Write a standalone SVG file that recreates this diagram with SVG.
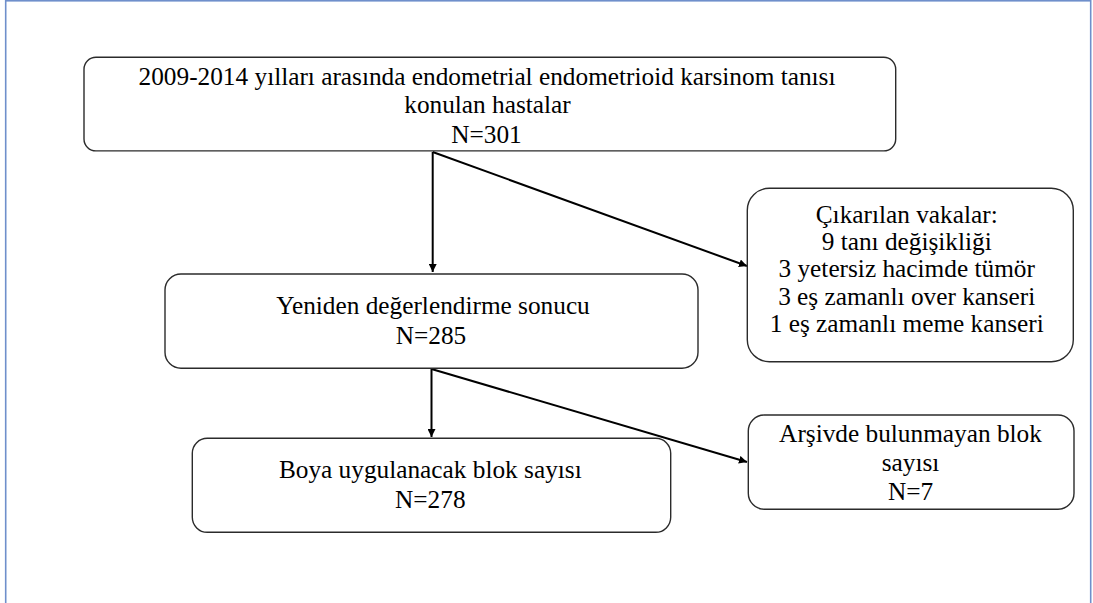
<svg xmlns="http://www.w3.org/2000/svg" width="1093" height="603" viewBox="0 0 1093 603">
  <style>
    .box { fill: #ffffff; stroke: #2b2b2b; stroke-width: 1.4; }
    .lbl { font-family: "Liberation Serif", "Times New Roman", serif; font-size: 25.3px; fill: #000000; text-anchor: middle; }
    .conn { stroke: #000000; stroke-width: 2; fill: none; marker-end: url(#arrow); }
  </style>
  <defs>
    <marker id="arrow" viewBox="0 0 8 8" refX="8" refY="4" markerWidth="8" markerHeight="8" markerUnits="userSpaceOnUse" orient="auto">
      <path d="M0,0 L8,4 L0,8 z" fill="#000000"/>
    </marker>
  </defs>
  <rect x="0" y="0" width="1093" height="603" fill="#ffffff"/>
  <rect x="5.7" y="0.8" width="1085" height="640" fill="none" stroke="#6F8FCB" stroke-width="1.6"/>

  <g id="connectors">
    <line class="conn" x1="432.7" y1="152" x2="432.7" y2="272"/>
    <line class="conn" x1="432.7" y1="152" x2="747" y2="266"/>
    <line class="conn" x1="431.5" y1="369" x2="431.5" y2="437"/>
    <line class="conn" x1="431.5" y1="369" x2="747" y2="462"/>
  </g>

  <g id="node-total">
    <rect class="box" x="84" y="57.3" width="811.7" height="93.6" rx="12" ry="12"/>
    <text class="lbl" x="487" y="85">2009-2014 yılları arasında endometrial endometrioid karsinom tanısı</text>
    <text class="lbl" x="487.5" y="113">konulan hastalar</text>
    <text class="lbl" x="486.5" y="142.7">N=301</text>
  </g>

  <g id="node-excluded">
    <rect class="box" x="747.3" y="188.3" width="326" height="173.4" rx="22" ry="22"/>
    <text class="lbl" x="906.7" y="222.7">Çıkarılan vakalar:</text>
    <text class="lbl" x="906.7" y="250">9 tanı değişikliği</text>
    <text class="lbl" x="906.7" y="277.3">3 yetersiz hacimde tümör</text>
    <text class="lbl" x="906.7" y="304.6">3 eş zamanlı over kanseri</text>
    <text class="lbl" x="906.7" y="331.9">1 eş zamanlı meme kanseri</text>
  </g>

  <g id="node-reeval">
    <rect class="box" x="165" y="274" width="533" height="94.3" rx="16" ry="16"/>
    <text class="lbl" x="433" y="314">Yeniden değerlendirme sonucu</text>
    <text class="lbl" x="431" y="343.5">N=285</text>
  </g>

  <g id="node-stain">
    <rect class="box" x="192.3" y="438.3" width="478.4" height="94" rx="15" ry="15"/>
    <text class="lbl" x="430.3" y="478.3">Boya uygulanacak blok sayısı</text>
    <text class="lbl" x="430.3" y="507.7">N=278</text>
  </g>

  <g id="node-missing">
    <rect class="box" x="748.3" y="415" width="325.7" height="94.3" rx="16" ry="16"/>
    <text class="lbl" x="910.5" y="441.7">Arşivde bulunmayan blok</text>
    <text class="lbl" x="910.5" y="471">sayısı</text>
    <text class="lbl" x="910.5" y="500">N=7</text>
  </g>
</svg>
